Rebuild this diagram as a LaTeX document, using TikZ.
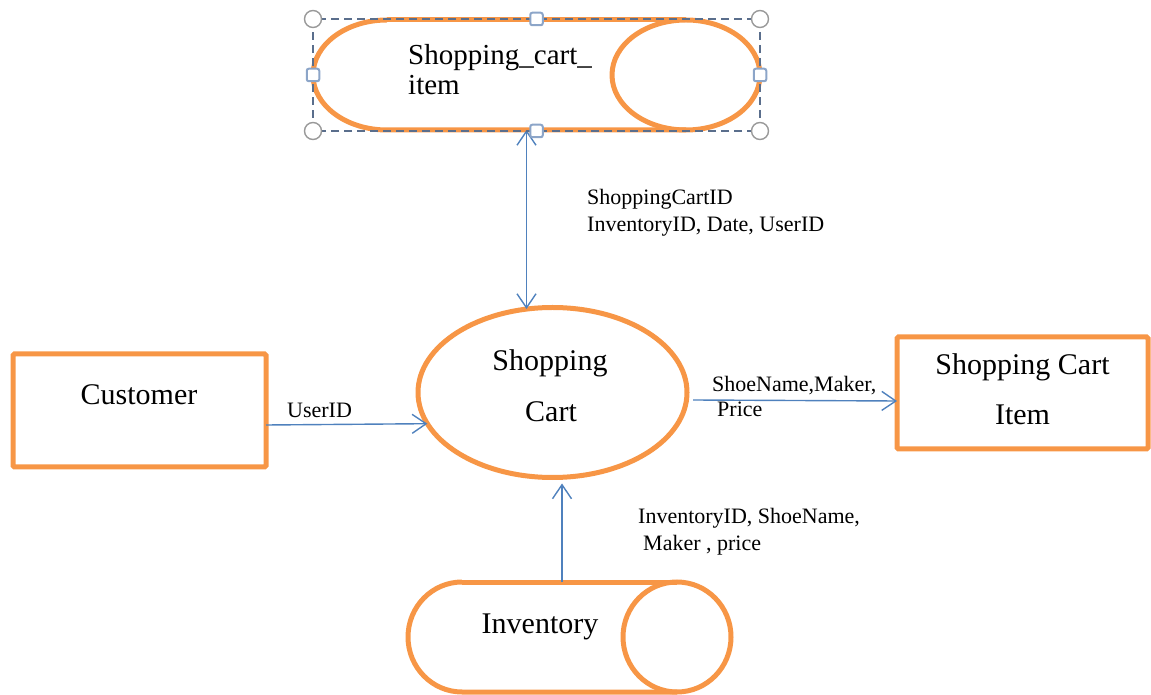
\documentclass[tikz,border=0pt]{standalone}
\usepackage{fontspec}
\setmainfont{Liberation Serif}
\usetikzlibrary{arrows.meta,shapes.geometric}
\definecolor{orng}{RGB}{247,150,70}
\definecolor{arrblue}{RGB}{79,129,189}
\definecolor{selblue}{RGB}{90,110,140}
\definecolor{hndl}{RGB}{140,165,200}
\begin{document}
\begin{tikzpicture}[x=1pt,y=1pt,
  obox/.style={draw=orng,line width=5pt,rectangle,inner sep=0pt,outer sep=0pt,rounded corners=1.5pt},
  oell/.style={draw=orng,line width=5pt,ellipse,inner sep=0pt,outer sep=0pt},
  frame/.style={inner sep=0pt,outer sep=0pt},
  orngline/.style={draw=orng,line width=5pt},
  arr/.style={draw=arrblue,line width=1.4pt,-{Straight Barb[length=14pt,width=19pt,line width=1.4pt]}},
  darr/.style={draw=arrblue,line width=1.4pt,{Straight Barb[length=14pt,width=19pt,line width=1.4pt]}-{Straight Barb[length=14pt,width=19pt,line width=1.4pt]}},
  big/.style={font=\fontsize{30}{36}\selectfont,inner sep=0pt},
  small/.style={font=\fontsize{22}{26}\selectfont,inner sep=0pt,anchor=base west},
  selbox/.style={draw=selblue,line width=1.3pt,dash pattern=on 8pt off 5pt},
  rhandle/.style={circle,draw=gray!80,fill=white,line width=1.4pt,minimum size=17pt,inner sep=0pt},
  shandle/.style={rectangle,rounded corners=2pt,draw=hndl,fill=white,line width=2pt,minimum size=12.5pt,inner sep=0pt}]
\useasboundingbox (0,0) rectangle (1151,694);

% frames of the nodes
\node[frame,minimum width=447pt,minimum height=110pt] (sci) at (536.5,619) {};
\node[oell,minimum width=269pt,minimum height=170pt] (sc) at (552.5,301.5) {};
\node[obox,minimum width=253pt,minimum height=113pt] (cust) at (139.5,283.5) {};
\node[obox,minimum width=251pt,minimum height=112pt] (item) at (1022.5,301) {};
\node[frame,minimum width=323pt,minimum height=110pt] (inv) at (569.5,57) {};

% cylinder: Shopping_cart_item
\draw[orngline] ([xshift=74pt]sci.north west) -- ([xshift=-74pt]sci.north east);
\draw[orngline] ([xshift=74pt]sci.north west) arc[start angle=90,end angle=270,x radius=74,y radius=55] -- ([xshift=-74pt]sci.south east);
\draw[orngline] ([xshift=-74pt]sci.east) ellipse[x radius=74,y radius=55];

% cylinder: Inventory
\draw[orngline] ([xshift=54pt]inv.north west) -- ([xshift=-54pt]inv.north east);
\draw[orngline] ([xshift=54pt]inv.north west) arc[start angle=90,end angle=270,x radius=54,y radius=55] -- ([xshift=-54pt]inv.south east);
\draw[orngline] ([xshift=-54pt]inv.east) ellipse[x radius=54,y radius=55];

% texts
\node[big,anchor=base] (tcust) at (139,289) {Customer};
\node[big,anchor=base] (titem1) at (1022.5,319) {Shopping Cart};
\node[big,anchor=base] (titem2) at (1022.5,269) {Item};
\node[big,anchor=base] (tsc1) at (550,323) {Shopping};
\node[big,anchor=base] (tsc2) at (551,272) {Cart};
\node[big,anchor=base] (tinv) at (540,61) {Inventory};
\node[big,font=\fontsize{29}{34}\selectfont,anchor=base west] (tsci1) at (408,629) {Shopping\_cart\_};
\node[big,font=\fontsize{29}{34}\selectfont,anchor=base west] (tsci2) at (408,599) {item};

% connectors
\draw[darr] ([xshift=-10pt]sci.south) -- ([xshift=-10pt,yshift=-1.5pt]sci.south |- sc.north);
\draw[arr] ([yshift=-14.5pt]cust.east) -- (sc.194);
\draw[arr] ([xshift=6pt,yshift=-7.5pt]sc.east) -- ([yshift=-8pt]item.west);
\draw[arr] ([xshift=-7.5pt]inv.north) -- ([xshift=-7.5pt,yshift=-6pt]inv.north |- sc.south);

% connector labels
\node[small] (l1a) at (587,489) {ShoppingCartID};
\node[small] (l1b) at (587,462) {InventoryID, Date, UserID};
\node[small] (l2) at (287,276) {UserID};
\node[small] (l3a) at (712,302) {ShoeName,Maker,};
\node[small] (l3b) at (717,277) {Price};
\node[small] (l4a) at (638,171) {InventoryID, ShoeName,};
\node[small] (l4b) at (643,144) {Maker , price};

% selection frame
\draw[selbox] ([yshift=-1pt]sci.south west) rectangle ([yshift=1pt]sci.north east);
\node[rhandle] (h1) at ([yshift=1pt]sci.north west) {};
\node[rhandle] (h2) at ([yshift=1pt]sci.north east) {};
\node[rhandle] (h3) at ([yshift=-1pt]sci.south west) {};
\node[rhandle] (h4) at ([yshift=-1pt]sci.south east) {};
\node[shandle] (h5) at ([yshift=1pt]sci.north) {};
\node[shandle] (h6) at ([yshift=-1pt]sci.south) {};
\node[shandle] (h7) at (sci.west) {};
\node[shandle] (h8) at (sci.east) {};
\end{tikzpicture}
\end{document}
